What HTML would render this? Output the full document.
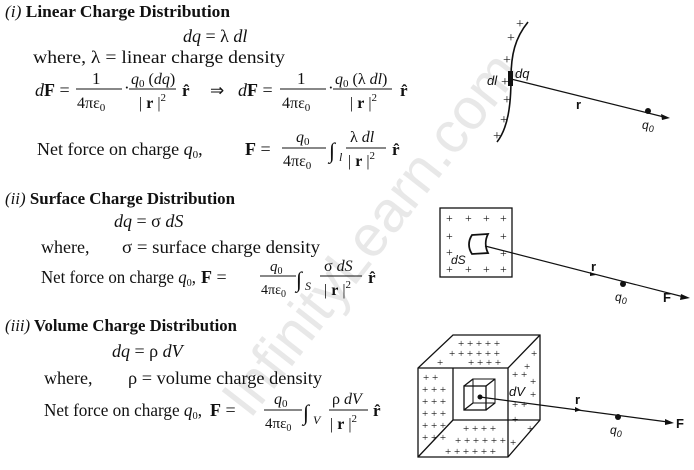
<!DOCTYPE html>
<html><head><meta charset="utf-8"><style>
html,body{margin:0;padding:0;background:#fff;}
svg{display:block;}
text{font-family:"Liberation Serif",serif;fill:#111;}
.b{font-weight:bold;}
.i{font-style:italic;}
</style></head><body>
<svg width="694" height="470" viewBox="0 0 694 470" xmlns="http://www.w3.org/2000/svg">
<!-- watermark -->
<text x="0" y="0" transform="translate(250,420) rotate(-52)" font-size="58" style="font-family:'Liberation Sans',sans-serif;fill:#e8e8e8;">InfinityLearn.com</text>

<!-- Section i -->
<text x="5" y="17" font-size="17" textLength="225" lengthAdjust="spacingAndGlyphs"><tspan class="i">(i)</tspan><tspan class="b"> Linear Charge Distribution</tspan></text>
<text x="183" y="42" font-size="18"><tspan class="i">dq</tspan> = λ <tspan class="i">dl</tspan></text>
<text x="33" y="63" font-size="18" textLength="252" lengthAdjust="spacingAndGlyphs">where, λ = linear charge density</text>
<text x="35" y="96" font-size="18"><tspan class="i">d</tspan><tspan class="b">F</tspan> =</text>
<text x="92" y="84" font-size="17">1</text>
<line x1="76" y1="89" x2="122" y2="89" stroke="#111"/>
<text x="77" y="108" font-size="16">4πε<tspan font-size="11" dy="3">0</tspan></text>
<text x="124" y="93" font-size="17">·</text>
<text x="131" y="84" font-size="16"><tspan class="i">q</tspan><tspan font-size="11" dy="3">0</tspan><tspan dy="-3"> (</tspan><tspan class="i">dq</tspan>)</text>
<line x1="129" y1="89" x2="176" y2="89" stroke="#111"/>
<text x="139" y="108" font-size="16">| <tspan class="b">r</tspan> |<tspan font-size="11" dy="-7">2</tspan></text>
<text x="182" y="96" font-size="17" class="b">r̂</text>
<text x="210" y="96" font-size="17">⇒</text>
<text x="238" y="96" font-size="18"><tspan class="i">d</tspan><tspan class="b">F</tspan> =</text>
<text x="297" y="84" font-size="17">1</text>
<line x1="280" y1="89" x2="326" y2="89" stroke="#111"/>
<text x="282" y="108" font-size="16">4πε<tspan font-size="11" dy="3">0</tspan></text>
<text x="328" y="93" font-size="17">·</text>
<text x="335" y="84" font-size="16"><tspan class="i">q</tspan><tspan font-size="11" dy="3">0</tspan><tspan dy="-3"> (λ </tspan><tspan class="i">dl</tspan>)</text>
<line x1="333" y1="89" x2="392" y2="89" stroke="#111"/>
<text x="350" y="108" font-size="16">| <tspan class="b">r</tspan> |<tspan font-size="11" dy="-7">2</tspan></text>
<text x="400" y="96" font-size="17" class="b">r̂</text>

<text x="37" y="155" font-size="18">Net force on charge <tspan class="i">q</tspan><tspan font-size="11" dy="3">0</tspan><tspan dy="-3">,</tspan></text>
<text x="245" y="155" font-size="18"><tspan class="b">F</tspan> =</text>
<text x="296" y="142" font-size="16"><tspan class="i">q</tspan><tspan font-size="11" dy="3">0</tspan></text>
<line x1="282" y1="148" x2="326" y2="148" stroke="#111"/>
<text x="283" y="166" font-size="16">4πε<tspan font-size="11" dy="3">0</tspan></text>
<text x="329" y="158" font-size="22">∫</text>
<text x="339" y="161" font-size="12" class="i">l</text>
<text x="350" y="142" font-size="16">λ <tspan class="i">dl</tspan></text>
<line x1="346" y1="148" x2="386" y2="148" stroke="#111"/>
<text x="348" y="166" font-size="16">| <tspan class="b">r</tspan> |<tspan font-size="11" dy="-7">2</tspan></text>
<text x="392" y="155" font-size="17" class="b">r̂</text>

<!-- Section ii -->
<text x="5" y="204" font-size="17" textLength="230" lengthAdjust="spacingAndGlyphs"><tspan class="i">(ii)</tspan><tspan class="b"> Surface Charge Distribution</tspan></text>
<text x="114" y="227" font-size="18"><tspan class="i">dq</tspan> = σ <tspan class="i">dS</tspan></text>
<text x="41" y="253" font-size="18">where,</text>
<text x="122" y="253" font-size="18" textLength="198" lengthAdjust="spacingAndGlyphs">σ = surface charge density</text>
<text x="41" y="283" font-size="18" textLength="155" lengthAdjust="spacingAndGlyphs">Net force on charge <tspan class="i">q</tspan><tspan font-size="11" dy="3">0</tspan><tspan dy="-3">,</tspan></text>
<text x="201" y="283" font-size="18"><tspan class="b">F</tspan> =</text>
<text x="270" y="271" font-size="15"><tspan class="i">q</tspan><tspan font-size="10" dy="3">0</tspan></text>
<line x1="260" y1="276" x2="296" y2="276" stroke="#111"/>
<text x="261" y="294" font-size="14">4πε<tspan font-size="10" dy="3">0</tspan></text>
<text x="296" y="287" font-size="22">∫</text>
<text x="305" y="290" font-size="12" class="i">S</text>
<text x="324" y="271" font-size="16">σ <tspan class="i">dS</tspan></text>
<line x1="320" y1="276" x2="362" y2="276" stroke="#111"/>
<text x="324" y="295" font-size="16">| <tspan class="b">r</tspan> |<tspan font-size="11" dy="-7">2</tspan></text>
<text x="368" y="283" font-size="17" class="b">r̂</text>

<!-- Section iii -->
<text x="5" y="331" font-size="17" textLength="232" lengthAdjust="spacingAndGlyphs"><tspan class="i">(iii)</tspan><tspan class="b"> Volume Charge Distribution</tspan></text>
<text x="112" y="357" font-size="18"><tspan class="i">dq</tspan> = ρ <tspan class="i">dV</tspan></text>
<text x="44" y="384" font-size="18">where,</text>
<text x="128" y="384" font-size="18" textLength="194" lengthAdjust="spacingAndGlyphs">ρ = volume charge density</text>
<text x="44" y="416" font-size="18" textLength="158" lengthAdjust="spacingAndGlyphs">Net force on charge <tspan class="i">q</tspan><tspan font-size="11" dy="3">0</tspan><tspan dy="-3">,</tspan></text>
<text x="210" y="416" font-size="18"><tspan class="b">F</tspan> =</text>
<text x="274" y="404" font-size="16"><tspan class="i">q</tspan><tspan font-size="11" dy="3">0</tspan></text>
<line x1="264" y1="410" x2="302" y2="410" stroke="#111"/>
<text x="265" y="428" font-size="15">4πε<tspan font-size="10" dy="3">0</tspan></text>
<text x="303" y="420" font-size="22">∫</text>
<text x="313" y="424" font-size="12" class="i">V</text>
<text x="332" y="404" font-size="16">ρ <tspan class="i">dV</tspan></text>
<line x1="329" y1="410" x2="368" y2="410" stroke="#111"/>
<text x="330" y="429" font-size="16">| <tspan class="b">r</tspan> |<tspan font-size="11" dy="-7">2</tspan></text>
<text x="373" y="416" font-size="17" class="b">r̂</text>

<!-- Diagram 1 -->
<path d="M528,22 C515,38 511,55 511,78 C511,105 508,128 497,142" stroke="#111" fill="none" stroke-width="1.6"/>
<rect x="508" y="71" width="5" height="15" fill="#111"/>
<line x1="511" y1="79" x2="664" y2="117" stroke="#111" stroke-width="1.2"/>
<polygon points="670,118 661,114 662,120" fill="#111"/>
<circle cx="648" cy="111" r="3" fill="#111"/>
<g font-size="14" style="font-family:'Liberation Sans',sans-serif;">
<text x="516" y="28">+</text>
<text x="507" y="42">+</text>
<text x="503" y="64">+</text>
<text x="501" y="86">+</text>
<text x="503" y="104">+</text>
<text x="500" y="124">+</text>
<text x="493" y="140">+</text>
</g>
<text x="487" y="85" font-size="13" style="font-family:'Liberation Sans',sans-serif;font-style:italic;">dl</text>
<text x="515" y="78" font-size="13" style="font-family:'Liberation Sans',sans-serif;font-style:italic;">dq</text>
<text x="576" y="109" font-size="13" style="font-family:'Liberation Sans',sans-serif;font-weight:bold;">r</text>
<text x="642" y="129" font-size="12" style="font-family:'Liberation Sans',sans-serif;font-style:italic;">q<tspan font-size="9" dy="3">0</tspan></text>

<!-- Diagram 2 -->
<rect x="440" y="208" width="72" height="69" fill="none" stroke="#111" stroke-width="1.3"/>
<g font-size="12" style="font-family:'Liberation Sans',sans-serif;">
<text x="446" y="222">+</text><text x="465" y="222">+</text><text x="483" y="222">+</text><text x="500" y="222">+</text>
<text x="446" y="240">+</text><text x="500" y="240">+</text>
<text x="446" y="256">+</text><text x="500" y="257">+</text>
<text x="446" y="273">+</text><text x="465" y="273">+</text><text x="483" y="273">+</text><text x="500" y="273">+</text>
</g>
<path d="M472,235 L488,234 C485,240 485,247 488,253 L472,254 C468,248 468,241 472,235 Z" fill="none" stroke="#111" stroke-width="1.8"/>
<text x="451" y="264" font-size="12" style="font-family:'Liberation Sans',sans-serif;font-style:italic;">dS</text>
<line x1="485" y1="246" x2="684" y2="297" stroke="#111" stroke-width="1.2"/>
<polygon points="690,298 681,294 680,300" fill="#111"/>
<polygon points="596,275 590,272 590,276" fill="#111"/>
<circle cx="623" cy="284" r="3" fill="#111"/>
<text x="591" y="271" font-size="13" style="font-family:'Liberation Sans',sans-serif;font-weight:bold;">r</text>
<text x="615" y="301" font-size="12" style="font-family:'Liberation Sans',sans-serif;font-style:italic;">q<tspan font-size="9" dy="3">0</tspan></text>
<text x="663" y="302" font-size="13" style="font-family:'Liberation Sans',sans-serif;font-weight:bold;">F</text>

<!-- Diagram 3 -->
<g stroke="#111" fill="none" stroke-width="1.3">
<polygon points="453,335 540,335 540,420 508,457 418,457 418,368"/>
<line x1="418" y1="368" x2="508" y2="368"/>
<line x1="508" y1="368" x2="508" y2="457"/>
<line x1="540" y1="335" x2="508" y2="368"/>
<line x1="453" y1="368" x2="453" y2="420"/>
<line x1="453" y1="420" x2="540" y2="420"/>
<line x1="418" y1="457" x2="453" y2="420"/>
<rect x="464" y="386" width="22" height="24"/>
<rect x="473" y="379" width="22" height="24" stroke-width="1"/>
<line x1="464" y1="386" x2="473" y2="379"/><line x1="486" y1="386" x2="495" y2="379"/>
<line x1="486" y1="410" x2="495" y2="403"/><line x1="464" y1="410" x2="473" y2="403"/>
</g>
<g font-size="11" style="font-family:'Liberation Sans',sans-serif;">
<text x="458" y="347">+ + + + +</text>
<text x="449" y="357">+ + + + + +</text>
<text x="437" y="366">+</text><text x="468" y="366">+ + + +</text>
<text x="423" y="381">+ +</text>
<text x="422" y="393">+ + +</text>
<text x="422" y="405">+ + +</text>
<text x="422" y="417">+ + +</text>
<text x="422" y="429">+ + +</text>
<text x="422" y="441">+ + +</text>
<text x="463" y="432">+ + + +</text>
<text x="455" y="444">+ + + + + +</text>
<text x="445" y="455">+ + + + + +</text>
<text x="531" y="357">+</text>
<text x="524" y="370">+</text><text x="512" y="378">+ +</text>
<text x="530" y="385">+</text><text x="530" y="398">+</text>
<text x="512" y="408">+ +</text>
<text x="512" y="423">+</text><text x="527" y="432">+</text>
<text x="510" y="446">+</text>
</g>
<text x="509" y="396" font-size="13" style="font-family:'Liberation Sans',sans-serif;font-style:italic;">dV</text>
<circle cx="480" cy="397" r="2.5" fill="#111"/>
<line x1="480" y1="397" x2="668" y2="422" stroke="#111" stroke-width="1.2"/>
<polygon points="674,423 665,419 665,425" fill="#111"/>
<polygon points="581,410 575,407 575,412" fill="#111"/>
<circle cx="618" cy="417" r="3" fill="#111"/>
<text x="575" y="404" font-size="13" style="font-family:'Liberation Sans',sans-serif;font-weight:bold;">r</text>
<text x="610" y="434" font-size="12" style="font-family:'Liberation Sans',sans-serif;font-style:italic;">q<tspan font-size="9" dy="3">0</tspan></text>
<text x="676" y="428" font-size="13" style="font-family:'Liberation Sans',sans-serif;font-weight:bold;">F</text>
</svg>
</body></html>
